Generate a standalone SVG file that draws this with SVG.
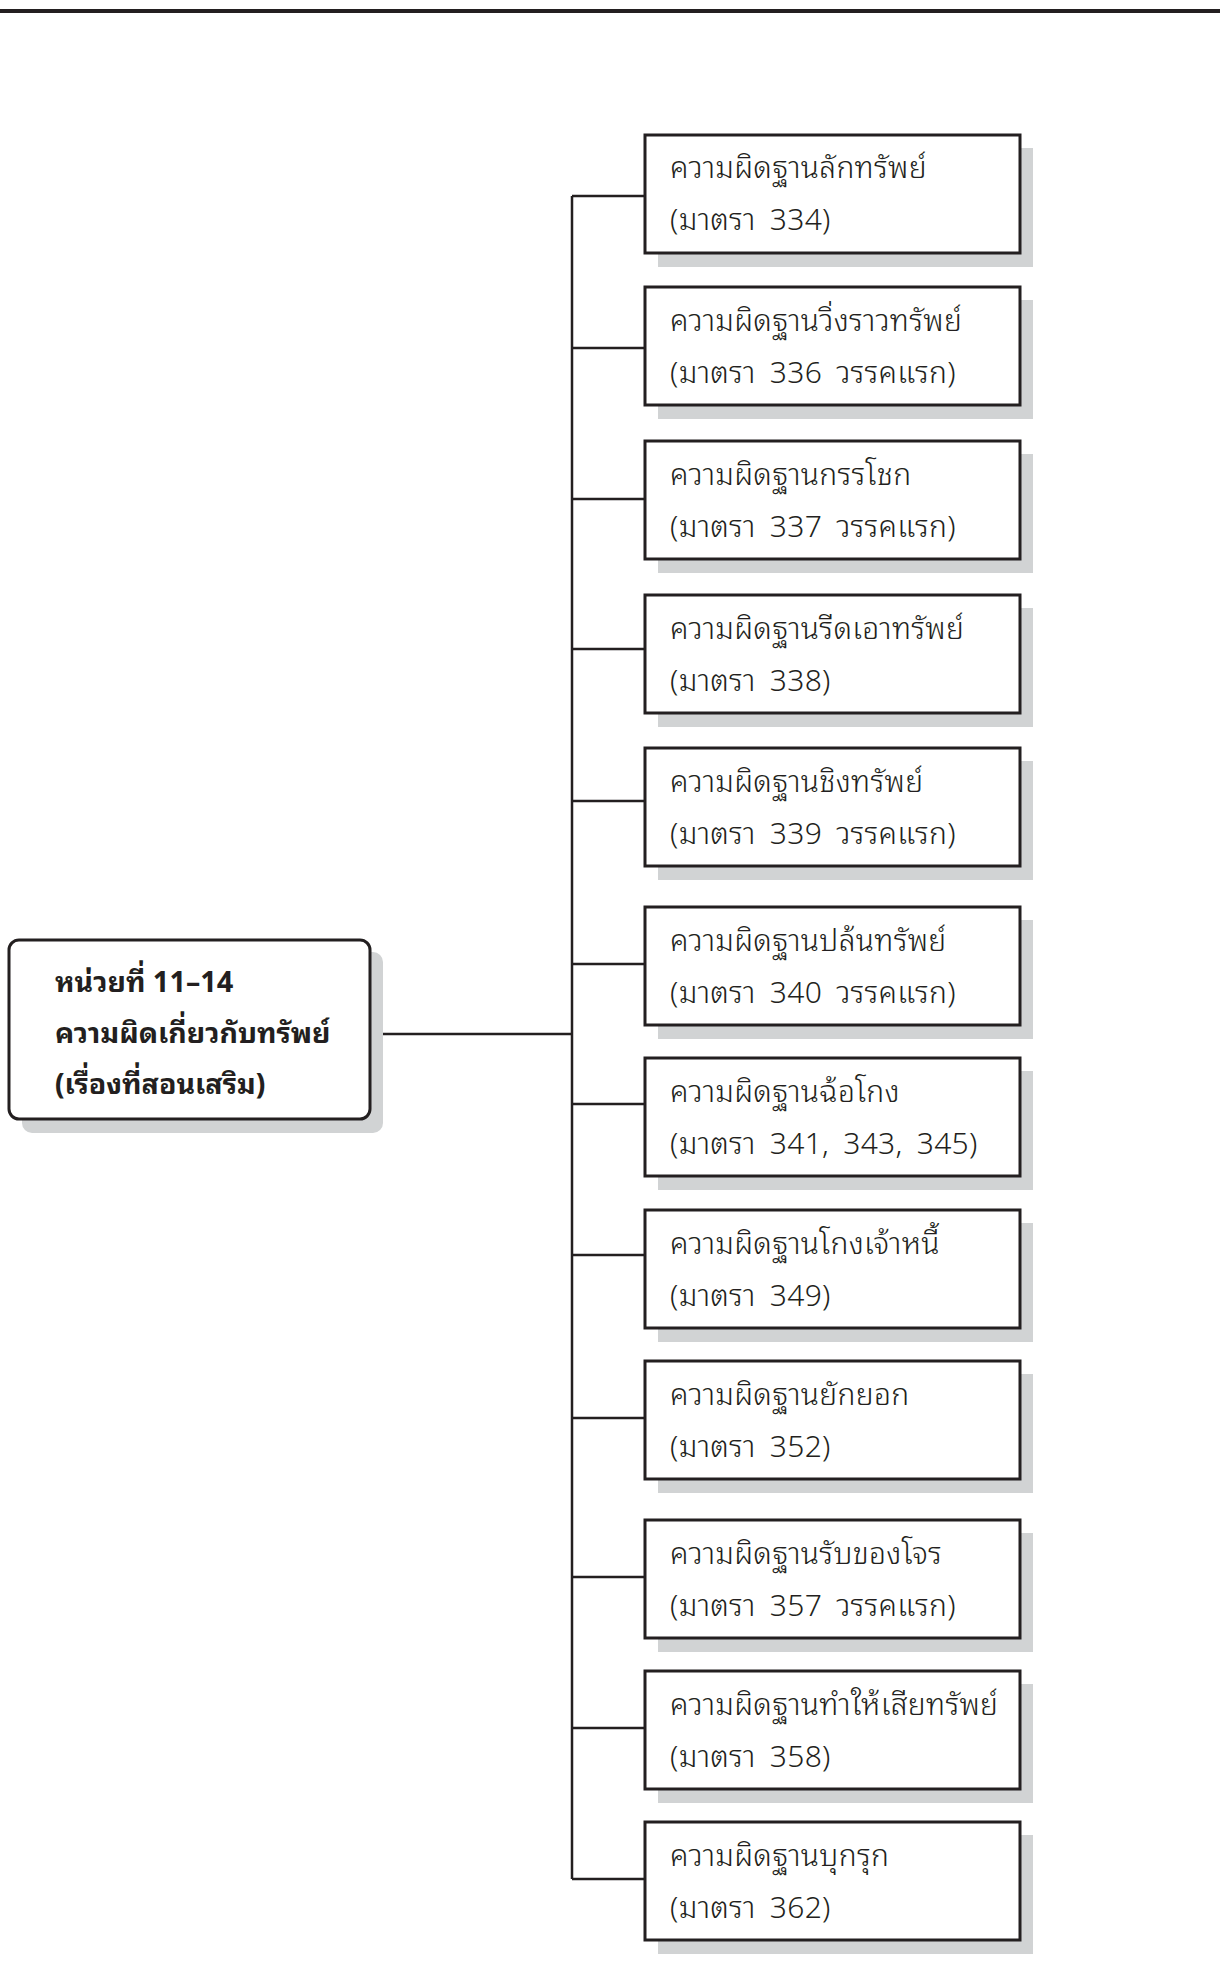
<svg xmlns="http://www.w3.org/2000/svg" width="1220" height="1980" viewBox="0 0 1220 1980">
<style>
.bg{fill:#ffffff}
.sh{fill:#d1d3d4}
.box{fill:#ffffff;stroke:#231f20;stroke-width:3}
.cbox{fill:#ffffff;stroke:#231f20;stroke-width:3}
.t{font-family:"Noto Sans Thai Looped","Loma","Garuda","Waree","Sarabun","Noto Sans Thai","Noto Sans",sans-serif;font-size:30px;font-weight:300;letter-spacing:0.3px;word-spacing:6px;fill:#231f20}
.b{font-family:"Noto Sans Thai Looped","Loma","Garuda","Waree","Sarabun","Noto Sans Thai","Noto Sans",sans-serif;font-size:28.5px;font-weight:bold;fill:#231f20}
.ln{fill:none;stroke:#231f20;stroke-width:2.5}
</style>
<rect class="bg" x="0" y="0" width="1220" height="1980"/>
<rect x="0" y="9" width="1220" height="4" fill="#231f20"/>
<g id="connectors">
<path class="ln" d="M370 1034 H572 M572 196 V1879"/>
<path class="ln" d="M572 196 H645 M572 348 H645 M572 499 H645 M572 649 H645 M572 801 H645 M572 964 H645 M572 1104 H645 M572 1255 H645 M572 1418 H645 M572 1577 H645 M572 1728 H645 M572 1879 H645"/>
</g>
<g id="root">
<rect class="sh" x="22" y="952" width="361" height="181" rx="10"/>
<rect class="cbox" x="9" y="940" width="361" height="179" rx="10"/>
<text class="b" x="55" y="992">หน่วยที่ 11–14</text>
<text class="b" x="55" y="1043">ความผิดเกี่ยวกับทรัพย์</text>
<text class="b" x="55" y="1094">(เรื่องที่สอนเสริม)</text>
</g>
<g id="n1"><rect class="sh" x="658" y="148" width="375" height="119"/><rect class="box" x="645" y="135" width="375" height="118"/><text class="t" x="670" y="178">ความผิดฐานลักทรัพย์</text><text class="t" x="670" y="230">(มาตรา 334)</text></g>
<g id="n2"><rect class="sh" x="658" y="300" width="375" height="119"/><rect class="box" x="645" y="287" width="375" height="118"/><text class="t" x="670" y="331">ความผิดฐานวิ่งราวทรัพย์</text><text class="t" x="670" y="383">(มาตรา 336 วรรคแรก)</text></g>
<g id="n3"><rect class="sh" x="658" y="454" width="375" height="119"/><rect class="box" x="645" y="441" width="375" height="118"/><text class="t" x="670" y="485">ความผิดฐานกรรโชก</text><text class="t" x="670" y="537">(มาตรา 337 วรรคแรก)</text></g>
<g id="n4"><rect class="sh" x="658" y="608" width="375" height="119"/><rect class="box" x="645" y="595" width="375" height="118"/><text class="t" x="670" y="639">ความผิดฐานรีดเอาทรัพย์</text><text class="t" x="670" y="691">(มาตรา 338)</text></g>
<g id="n5"><rect class="sh" x="658" y="761" width="375" height="119"/><rect class="box" x="645" y="748" width="375" height="118"/><text class="t" x="670" y="792">ความผิดฐานชิงทรัพย์</text><text class="t" x="670" y="844">(มาตรา 339 วรรคแรก)</text></g>
<g id="n6"><rect class="sh" x="658" y="920" width="375" height="119"/><rect class="box" x="645" y="907" width="375" height="118"/><text class="t" x="670" y="951">ความผิดฐานปล้นทรัพย์</text><text class="t" x="670" y="1003">(มาตรา 340 วรรคแรก)</text></g>
<g id="n7"><rect class="sh" x="658" y="1071" width="375" height="119"/><rect class="box" x="645" y="1058" width="375" height="118"/><text class="t" x="670" y="1102">ความผิดฐานฉ้อโกง</text><text class="t" x="670" y="1154">(มาตรา 341, 343, 345)</text></g>
<g id="n8"><rect class="sh" x="658" y="1223" width="375" height="119"/><rect class="box" x="645" y="1210" width="375" height="118"/><text class="t" x="670" y="1254">ความผิดฐานโกงเจ้าหนี้</text><text class="t" x="670" y="1306">(มาตรา 349)</text></g>
<g id="n9"><rect class="sh" x="658" y="1374" width="375" height="119"/><rect class="box" x="645" y="1361" width="375" height="118"/><text class="t" x="670" y="1405">ความผิดฐานยักยอก</text><text class="t" x="670" y="1457">(มาตรา 352)</text></g>
<g id="n10"><rect class="sh" x="658" y="1533" width="375" height="119"/><rect class="box" x="645" y="1520" width="375" height="118"/><text class="t" x="670" y="1564">ความผิดฐานรับของโจร</text><text class="t" x="670" y="1616">(มาตรา 357 วรรคแรก)</text></g>
<g id="n11"><rect class="sh" x="658" y="1684" width="375" height="119"/><rect class="box" x="645" y="1671" width="375" height="118"/><text class="t" x="670" y="1715">ความผิดฐานทำให้เสียทรัพย์</text><text class="t" x="670" y="1767">(มาตรา 358)</text></g>
<g id="n12"><rect class="sh" x="658" y="1835" width="375" height="119"/><rect class="box" x="645" y="1822" width="375" height="118"/><text class="t" x="670" y="1866">ความผิดฐานบุกรุก</text><text class="t" x="670" y="1918">(มาตรา 362)</text></g>
</svg>
